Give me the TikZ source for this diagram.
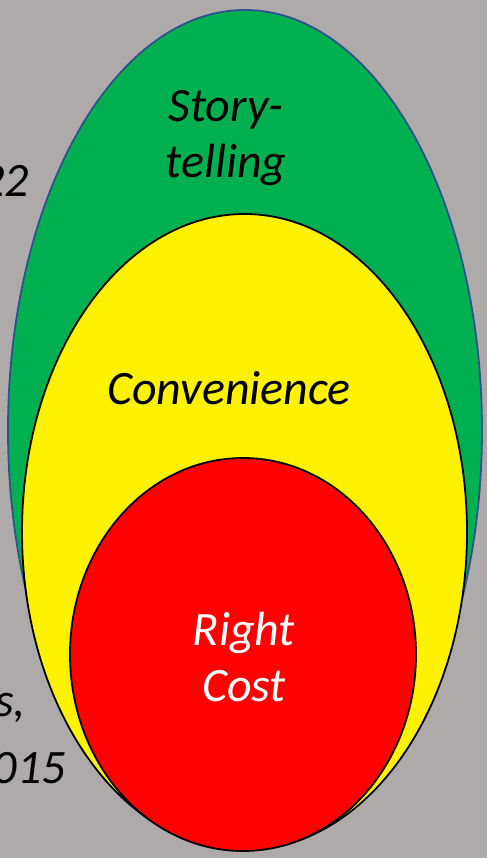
\documentclass[tikz,border=0pt]{standalone}
\usepackage{fontspec}
\setmainfont{Carlito}
\usepackage{xcolor}
\usepackage{tikz}
\usetikzlibrary{shapes.geometric,positioning}

\definecolor{slidegray}{HTML}{AEAAAA}
\definecolor{storygreen}{HTML}{00B050}
\definecolor{outlineblue}{HTML}{2F528F}

\begin{document}
\begin{tikzpicture}[
    x=1pt, y=-1pt,
    layer/.style={ellipse, inner sep=0pt, line width=1.8pt},
    label/.style={font=\fontsize{48}{56}\selectfont\itshape, align=center, inner sep=0pt},
    sidenote/.style={font=\fontsize{48}{56}\selectfont\itshape, inner sep=0pt, anchor=east}
]

% Background
\fill[slidegray] (0,0) rectangle (487,858);
\useasboundingbox (0,0) rectangle (487,858);

% Nested layers
\node[layer, draw=outlineblue, fill=storygreen, minimum width=474pt, minimum height=840pt] (story) at (245,430) {};
\node[layer, draw=black, fill=yellow, minimum width=445pt, minimum height=636pt] (convenience) at (244.5,532) {};
\node[layer, draw=black, fill=red, minimum width=346pt, minimum height=393pt] (cost) at (243,654.5) {};

% Labels
\node[label] (storytext) at (226,138) {Story-\\telling};
\node[label] (convtext) at (229,388) {Convenience};
\node[label, text=white] (costtext) at (244,657) {Right\\Cost};

% Cut-off side text
\node[sidenote] (yearA) at (29,181) {22};
\node[sidenote] (authors) at (26,708) {s,};
\node[sidenote] (yearB) at (66,768) {2015};

\end{tikzpicture}
\end{document}
